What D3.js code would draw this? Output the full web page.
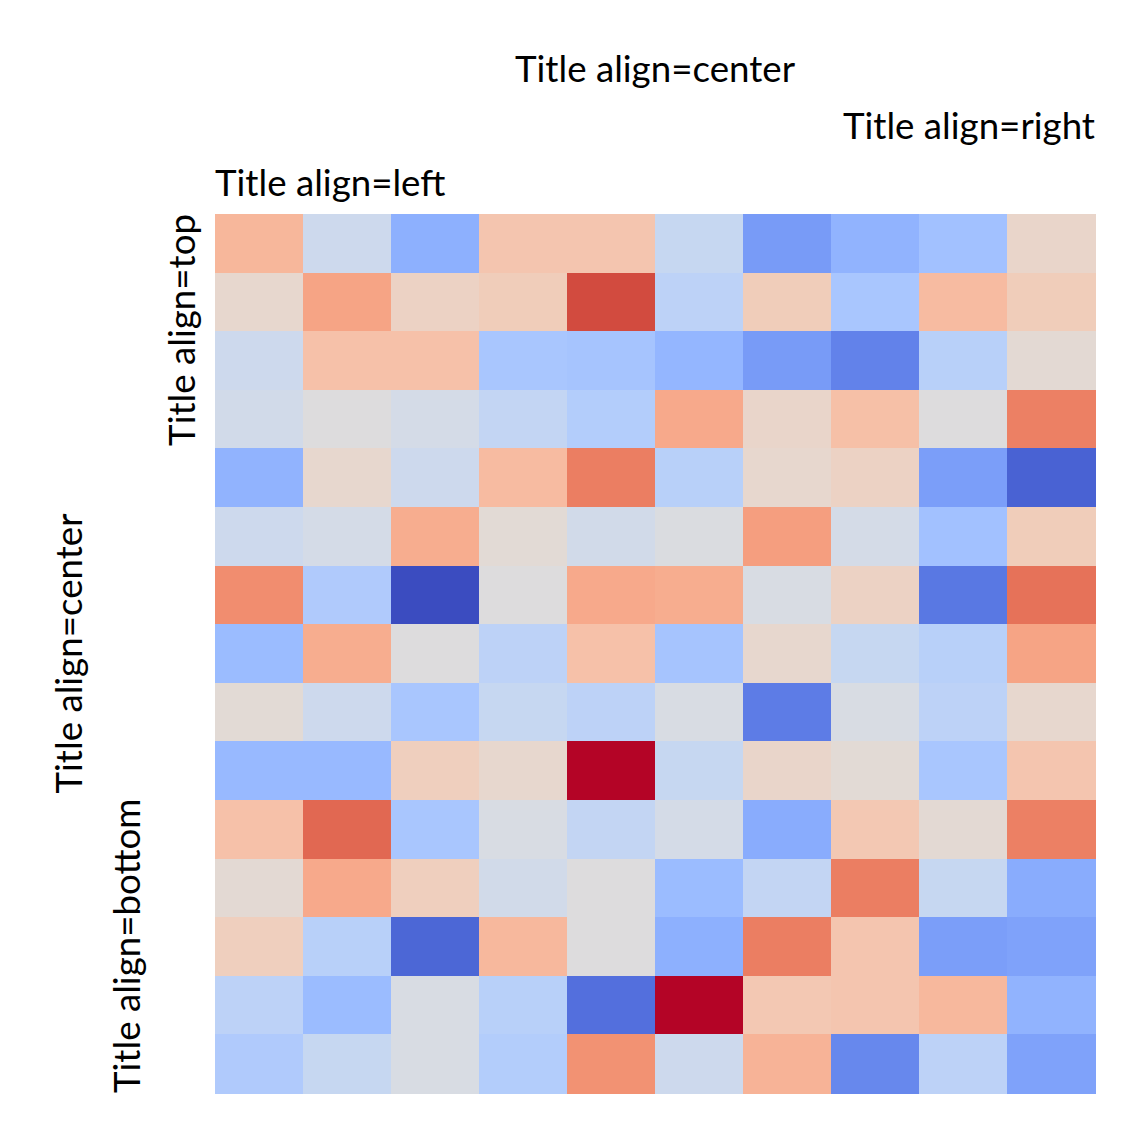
<!DOCTYPE html>
<html>
<head>
<meta charset="utf-8">
<script src="https://cdn.jsdelivr.net/npm/d3@7"></script>
<style>
	body { margin: 0; background: #fff; }
	svg text { font-family: Lato, "Open Sans", sans-serif; fill: #000; }
</style>
</head>
<body>
<div id="svg-container"></div>
<script>
// DATA
const cols = d3.range(10);
const rows = d3.range(15);

// cell values, one row per array, top to bottom
const row0  = [0.67, 0.44, 0.25, 0.62, 0.62, 0.42, 0.19, 0.26, 0.31, 0.55];
const row1  = [0.54, 0.725, 0.565, 0.59, 0.915, 0.39, 0.59, 0.33, 0.655, 0.59];
const row2  = [0.44, 0.635, 0.635, 0.33, 0.32, 0.27, 0.19, 0.125, 0.375, 0.525];
const row3  = [0.455, 0.5, 0.465, 0.41, 0.36, 0.71, 0.55, 0.64, 0.5, 0.81];
const row4  = [0.26, 0.54, 0.44, 0.655, 0.815, 0.375, 0.54, 0.565, 0.2, 0.05];
const row5  = [0.44, 0.465, 0.7, 0.52, 0.455, 0.49, 0.74, 0.465, 0.31, 0.59];
const row6  = [0.78, 0.35, 0.0, 0.5, 0.71, 0.7, 0.48, 0.565, 0.1, 0.84];
const row7  = [0.29, 0.7, 0.5, 0.39, 0.635, 0.32, 0.54, 0.42, 0.375, 0.725];
const row8  = [0.52, 0.44, 0.33, 0.42, 0.39, 0.48, 0.11, 0.48, 0.39, 0.54];
const row9  = [0.28, 0.28, 0.58, 0.54, 1.0, 0.42, 0.55, 0.52, 0.33, 0.62];
const row10 = [0.635, 0.86, 0.33, 0.48, 0.41, 0.465, 0.24, 0.61, 0.525, 0.81];
const row11 = [0.525, 0.71, 0.58, 0.455, 0.5, 0.29, 0.41, 0.815, 0.42, 0.24];
const row12 = [0.58, 0.375, 0.06, 0.665, 0.5, 0.25, 0.815, 0.62, 0.2, 0.21];
const row13 = [0.39, 0.29, 0.48, 0.375, 0.08, 1.0, 0.61, 0.62, 0.665, 0.26];
const row14 = [0.35, 0.42, 0.48, 0.36, 0.77, 0.44, 0.68, 0.14, 0.39, 0.21];
const values = [row0, row1, row2, row3, row4, row5, row6, row7, row8, row9, row10, row11, row12, row13, row14];

// titles
const topTitles = ["Title align=center", "Title align=right", "Title align=left"];
const sideTitles = ["Title align=center", "Title align=bottom", "Title align=top"];

// coolwarm stops
const coolwarm = [
	"#3b4cc0", "#445acc", "#4d68d7", "#5775e1", "#6282ea", "#6c8ef1", "#779af7", "#82a5fb",
	"#8db0fe", "#98b9ff", "#a3c2ff", "#aec9fd", "#b8d0f9", "#c2d5f4", "#ccd9ee", "#d5dbe6",
	"#dddddd", "#e5d8d1", "#ecd3c5", "#f1ccb9", "#f5c4ad", "#f7bba0", "#f7b194", "#f7a687",
	"#f49a7b", "#f18d6f", "#ec7f63", "#e57058", "#de604d", "#d55042", "#cb3e38", "#c0282f",
	"#b40426"
];


// HEATMAP
function graphData(data) {
	const w = 1138;
	const h = 1138;
	const left = 215;
	const right = 1095;
	const top = 214;
	const bottom = 1093;

	const flat = data.flat();
	const color = d3.scaleSequential(d3.interpolateRgbBasis(coolwarm))
		.domain([d3.min(flat), d3.max(flat)]);

	const xScale = d3.scaleBand().domain(cols).range([left, right]);
	const yScale = d3.scaleBand().domain(rows).range([top, bottom]);

	const svg = d3.select("#svg-container")
		.append("svg")
		.attr("width", w)
		.attr("height", h);

	// cells
	const cells = [];
	data.forEach((r, i) => r.forEach((v, j) => cells.push({ row: i, col: j, value: v })));
	svg.append("g")
		.selectAll("rect")
		.data(cells)
		.enter()
		.append("rect")
		.attr("x", d => xScale(d.col))
		.attr("y", d => yScale(d.row))
		.attr("width", xScale.bandwidth() + 0.5)
		.attr("height", yScale.bandwidth() + 0.5)
		.attr("shape-rendering", "crispEdges")
		.style("fill", d => color(d.value));

	// titles above
	const fs = 36.7;
	const topY = [82, 139, 196];
	const topX = [(left + right) / 2, right, left];
	const topAnchor = ["middle", "end", "start"];
	topTitles.forEach((t, i) => {
		svg.append("text")
			.text(t)
			.attr("x", topX[i])
			.attr("y", topY[i])
			.attr("text-anchor", topAnchor[i])
			.style("font-size", fs + "px");
	});

	// titles on the left, rotated
	const sideX = [82, 140, 195];
	const sideY = [(top + bottom) / 2, bottom, top];
	const sideAnchor = ["middle", "start", "end"];
	sideTitles.forEach((t, i) => {
		svg.append("text")
			.text(t)
			.attr("text-anchor", sideAnchor[i])
			.attr("transform", `translate(${sideX[i]}, ${sideY[i]}) rotate(-90)`)
			.style("font-size", fs + "px");
	});
}

document.addEventListener('DOMContentLoaded', () => {
	graphData(values);
});
</script>
</body>
</html>
